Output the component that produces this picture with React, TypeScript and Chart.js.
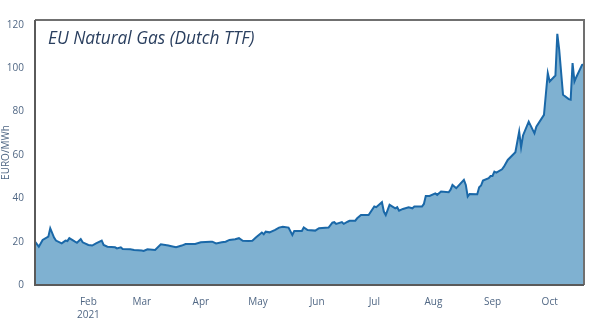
import React, { useEffect, useRef } from "react";
import { Chart, registerables } from "chart.js";

Chart.register(...registerables);

const dates: string[] = [
  "2021-01-04", "2021-01-06", "2021-01-08", "2021-01-11", "2021-01-12", "2021-01-14", "2021-01-15",
  "2021-01-18", "2021-01-20", "2021-01-21", "2021-01-22", "2021-01-25", "2021-01-26", "2021-01-28",
  "2021-01-29", "2021-02-01", "2021-02-03", "2021-02-05", "2021-02-08", "2021-02-09", "2021-02-11",
  "2021-02-15", "2021-02-16", "2021-02-18", "2021-02-19", "2021-02-23", "2021-02-25", "2021-03-01",
  "2021-03-02", "2021-03-04", "2021-03-08", "2021-03-11", "2021-03-15", "2021-03-16", "2021-03-19",
  "2021-03-22", "2021-03-24", "2021-03-29", "2021-04-01", "2021-04-06", "2021-04-07", "2021-04-09",
  "2021-04-12", "2021-04-14", "2021-04-16", "2021-04-19", "2021-04-21", "2021-04-23", "2021-04-26",
  "2021-04-28", "2021-04-30", "2021-05-03", "2021-05-04", "2021-05-05", "2021-05-07", "2021-05-10",
  "2021-05-12", "2021-05-14", "2021-05-17", "2021-05-19", "2021-05-20", "2021-05-24", "2021-05-25",
  "2021-05-27", "2021-05-31", "2021-06-02", "2021-06-07", "2021-06-09", "2021-06-10", "2021-06-11",
  "2021-06-14", "2021-06-15", "2021-06-17", "2021-06-18", "2021-06-21", "2021-06-22", "2021-06-24",
  "2021-06-28", "2021-07-01", "2021-07-02", "2021-07-05", "2021-07-06", "2021-07-07", "2021-07-09",
  "2021-07-12", "2021-07-13", "2021-07-14", "2021-07-16", "2021-07-19", "2021-07-21", "2021-07-22",
  "2021-07-26", "2021-07-27", "2021-07-28", "2021-07-30", "2021-08-02", "2021-08-03", "2021-08-05",
  "2021-08-09", "2021-08-10", "2021-08-11", "2021-08-13", "2021-08-17", "2021-08-18", "2021-08-19",
  "2021-08-20", "2021-08-24", "2021-08-25", "2021-08-26", "2021-08-27", "2021-08-30", "2021-08-31",
  "2021-09-01", "2021-09-02", "2021-09-03", "2021-09-06", "2021-09-07", "2021-09-09", "2021-09-13",
  "2021-09-15", "2021-09-16", "2021-09-17", "2021-09-20", "2021-09-23", "2021-09-24", "2021-09-28",
  "2021-09-30", "2021-10-01", "2021-10-04", "2021-10-05", "2021-10-06", "2021-10-08", "2021-10-11",
  "2021-10-12", "2021-10-13", "2021-10-14", "2021-10-15", "2021-10-18", "2021-10-19",
];

const prices: number[] = [
  20.0, 17.7, 20.8, 22.3, 26.2, 21.9, 20.5,
  19.2, 20.5, 20.3, 21.6, 20.0, 19.5, 21.2,
  19.7, 18.5, 18.2, 19.2, 20.5, 18.5, 17.7,
  17.4, 16.9, 17.4, 16.6, 16.5, 16.2, 15.9,
  15.7, 16.5, 16.2, 18.8, 18.2, 18.0, 17.4,
  18.2, 18.9, 18.9, 19.7, 20.0, 20.0, 19.2,
  19.7, 20.0, 20.8, 21.1, 21.6, 20.4, 20.3,
  20.4, 22.0, 24.2, 23.4, 24.6, 24.3, 25.4,
  26.5, 26.9, 26.5, 23.1, 24.9, 24.9, 26.6,
  25.4, 25.1, 26.2, 26.5, 28.8, 29.0, 28.2,
  29.0, 28.2, 29.2, 29.6, 29.7, 30.8, 32.3,
  32.3, 36.2, 35.9, 38.2, 33.9, 32.3, 37.0,
  35.4, 35.9, 34.3, 35.1, 35.9, 35.4, 36.2,
  36.2, 37.4, 41.1, 41.1, 42.3, 41.6, 43.1,
  42.8, 44.0, 46.2, 44.7, 48.5, 46.2, 40.8,
  42.0, 41.9, 45.1, 45.9, 48.2, 49.3, 50.3,
  50.3, 52.3, 51.9, 53.4, 54.6, 57.7, 61.3,
  70.8, 63.6, 69.0, 75.4, 70.0, 73.1, 78.5,
  97.8, 93.9, 96.7, 115.9, 108.5, 87.8, 85.8,
  85.5, 102.4, 93.9, 96.0, 101.6, 101.8,
];

const monthTicks: string[] = ["2021-02-01", "2021-03-01", "2021-04-01", "2021-05-01", "2021-06-01", "2021-07-01", "2021-08-01", "2021-09-01", "2021-10-01"];
const monthLabels: string[] = ["Feb", "Mar", "Apr", "May", "Jun", "Jul", "Aug", "Sep", "Oct"];
const yearLabel = "2021";
const yTicks: number[] = [0, 20, 40, 60, 80, 100, 120];
const yMax = 122.3;
const chartTitle = "EU Natural Gas (Dutch TTF)";
const yTitle = "EURO/MWh";

const dayOf = (s: string) => {
  const [y, m, d] = s.split("-").map(Number);
  return (Date.UTC(y, m - 1, d) - Date.UTC(2021, 0, 1)) / 86400000;
};

export default function App() {
  const ref = useRef<HTMLCanvasElement | null>(null);

  useEffect(() => {
    if (!ref.current) return;
    const points = dates.map((d, i) => ({ x: dayOf(d), y: prices[i] }));
    const tickVals = monthTicks.map(dayOf);
    const tickColor = "#506784";
    const font = "'Open Sans', 'Noto Sans', sans-serif";

    const framePlugin = {
      id: "frame",
      afterDraw(chart: any) {
        const { ctx, chartArea: a } = chart;
        ctx.save();
        ctx.lineWidth = 2;
        ctx.strokeStyle = "#707070";
        ctx.beginPath();
        ctx.moveTo(a.left, a.top);
        ctx.lineTo(a.right, a.top);
        ctx.lineTo(a.right, a.bottom);
        ctx.stroke();
        ctx.strokeStyle = "#5a5a5a";
        ctx.beginPath();
        ctx.moveTo(a.left, a.top);
        ctx.lineTo(a.left, a.bottom);
        ctx.lineTo(a.right, a.bottom);
        ctx.stroke();
        ctx.fillStyle = "#2a3f5f";
        ctx.font = `italic 17.3px ${font}`;
        ctx.textBaseline = "alphabetic";
        ctx.textAlign = "left";
        ctx.fillText(chartTitle, a.left + 13, a.top + 24);
        ctx.restore();
      },
    };

    const chart = new Chart(ref.current, {
      type: "line",
      data: {
        datasets: [
          {
            data: points,
            borderColor: "#1a68a8",
            backgroundColor: "#7fb1d1",
            borderWidth: 2,
            pointRadius: 0,
            tension: 0,
            fill: "origin",
          },
        ],
      },
      options: {
        animation: false,
        responsive: false,
        layout: { padding: { top: 20, right: 16, left: 0, bottom: 0 } },
        plugins: { legend: { display: false }, tooltip: { enabled: false } },
        scales: {
          x: {
            type: "linear",
            min: points[0].x,
            max: points[points.length - 1].x,
            grid: { display: false },
            border: { display: false },
            afterBuildTicks: (scale: any) => {
              scale.ticks = tickVals.map((v) => ({ value: v }));
            },
            afterFit: (scale: any) => {
              scale.height = 36;
            },
            ticks: {
              autoSkip: false,
              maxRotation: 0,
              padding: 3,
              color: tickColor,
              font: { family: font, size: 10, lineHeight: 1.25 },
              callback: (v: any) => {
                const i = tickVals.indexOf(Number(v));
                if (i < 0) return "";
                return i === 0 ? [monthLabels[i], yearLabel] : monthLabels[i];
              },
            },
          },
          y: {
            min: 0,
            max: yMax,
            grid: { display: false },
            border: { display: false },
            afterBuildTicks: (scale: any) => {
              scale.ticks = yTicks.map((v) => ({ value: v }));
            },
            afterFit: (scale: any) => {
              scale.width = 35;
            },
            ticks: {
              padding: 3,
              color: tickColor,
              font: { family: font, size: 10 },
            },
            title: {
              display: true,
              text: yTitle,
              color: tickColor,
              font: { family: font, size: 10 },
              padding: { top: 0, bottom: 2 },
            },
          },
        },
      },
      plugins: [framePlugin],
    } as any);
    return () => chart.destroy();
  }, []);

  return (
    <div style={{ position: "absolute", left: 0, top: 0, width: 600, height: 321, background: "#fff" }}>
      <canvas ref={ref} width={600} height={321} />
    </div>
  );
}
